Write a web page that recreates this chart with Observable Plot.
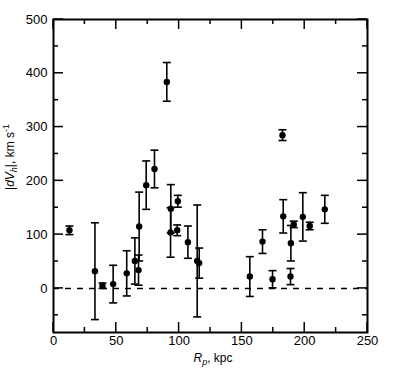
<!DOCTYPE html>
<html>
<head>
<meta charset="utf-8">
<script src="https://cdn.jsdelivr.net/npm/d3@7"></script>
<script src="https://cdn.jsdelivr.net/npm/@observablehq/plot@0.6"></script>
<style>
  body { margin: 0; background: #fff; }
  #chart { width: 395px; height: 370px; }
</style>
</head>
<body>
<div id="chart"></div>
<script>
// Projected distance R_p (kpc)
const rp = [12.7, 33, 39, 47.5, 58.3, 64.8, 67.7, 68.2, 73.8, 80.4, 90.2, 93.4, 93.2, 99, 98.5, 107, 114.4, 116,
            156.3, 166.4, 174.4, 182.3, 182.9, 189, 188.7, 191.3, 198.5, 204, 216];
// |dV_h| (km/s)
const dv = [108, 32, 5, 8, 28, 51, 34, 115, 192, 222, 384, 148, 104, 162, 108, 86, 51, 47,
            22, 87, 17, 285, 134, 84, 22, 119, 133, 116, 147];
// errors (km/s)
const err = [8, 90, 5, 35, 42, 43, 28, 64, 45, 35, 36, 45, 46, 11, 10, 30, 104, 28,
             37, 22, 16, 10, 31, 33, 15, 6, 45, 7, 26];

const xTicksMajor = [0, 50, 100, 150, 200, 250];
const xTicksMinor = [25, 75, 125, 175, 225];
const yTicksMajor = [0, 100, 200, 300, 400, 500];
const yTicksMinor = [-50, 50, 150, 250, 350, 450];

const data = rp.map((r, i) => ({x: r, y: dv[i], lo: dv[i] - err[i], hi: dv[i] + err[i]}));

const capSymbol = {
  draw(context, size) {
    const w = Math.sqrt(size / Math.PI);
    context.moveTo(-w, 0);
    context.lineTo(w, 0);
  }
};

const W = 395, H = 370, ML = 53, MR = 28, MT = 19, MB = 38;
const font = "Liberation Sans, Arial, Helvetica, sans-serif";

const plot = Plot.plot({
  width: W,
  height: H,
  marginLeft: ML,
  marginRight: MR,
  marginTop: MT,
  marginBottom: MB,
  style: {fontFamily: font, fontSize: "13px", color: "black", background: "white"},
  x: {domain: [0, 250]},
  y: {domain: [-82, 500]},
  marks: [
    Plot.axisX(xTicksMajor, {anchor: "bottom", tickSize: 0, tickPadding: 3, label: null, fontSize: 13}),
    Plot.axisY(yTicksMajor, {anchor: "left", tickSize: 0, tickPadding: 6, label: null, fontSize: 13}),
    Plot.ruleY([0], {stroke: "black", strokeWidth: 1.5, strokeDasharray: "6,6"}),
    Plot.ruleX(data, {x: "x", y1: "lo", y2: "hi", stroke: "black", strokeWidth: 1.6}),
    Plot.dot(data, {x: "x", y: "hi", symbol: capSymbol, r: 4, stroke: "black", strokeWidth: 1.6, fill: "none"}),
    Plot.dot(data, {x: "x", y: "lo", symbol: capSymbol, r: 4, stroke: "black", strokeWidth: 1.6, fill: "none"}),
    Plot.dot(data, {x: "x", y: "y", r: 3.2, fill: "black", stroke: "none"}),
    Plot.frame({stroke: "black", strokeWidth: 2})
  ]
});

const svg = d3.select(plot);

// inward ticks on all four sides, positioned with the plot's own scales
function scaleFn(name) {
  const s = plot.scale(name);
  if (s && typeof s.apply === "function") return v => s.apply(v);
  return v => s.range[0] + (v - s.domain[0]) / (s.domain[1] - s.domain[0]) * (s.range[1] - s.range[0]);
}
const sx = scaleFn("x"), sy = scaleFn("y");
const x0 = ML, x1 = W - MR, y0 = MT, y1 = H - MB;
const tg = svg.append("g").attr("stroke", "black").attr("stroke-width", 1.5);
function tickX(vals, len) {
  vals.forEach(v => {
    const px = sx(v);
    tg.append("line").attr("x1", px).attr("x2", px).attr("y1", y1).attr("y2", y1 - len);
    tg.append("line").attr("x1", px).attr("x2", px).attr("y1", y0).attr("y2", y0 + len);
  });
}
function tickY(vals, len) {
  vals.forEach(v => {
    const py = sy(v);
    tg.append("line").attr("y1", py).attr("y2", py).attr("x1", x0).attr("x2", x0 + len);
    tg.append("line").attr("y1", py).attr("y2", py).attr("x1", x1).attr("x2", x1 - len);
  });
}
tickX(xTicksMajor, 10);
tickX(xTicksMinor, 5);
tickY(yTicksMajor, 10);
tickY(yTicksMinor, 5);

// Y axis label
const yl = svg.append("text")
  .attr("transform", "translate(14,157) rotate(-90)")
  .attr("text-anchor", "middle")
  .attr("font-family", font)
  .attr("font-size", 12)
  .attr("fill", "black");
yl.append("tspan").text("|");
yl.append("tspan").attr("font-style", "italic").text("dV");
yl.append("tspan").attr("font-style", "italic").attr("font-size", 9).attr("dy", 3).text("h");
yl.append("tspan").attr("dy", -3).text("|, km s");
yl.append("tspan").attr("font-size", 9).attr("dy", -5).text("-1");

// X axis label
const xl = svg.append("text")
  .attr("x", 213)
  .attr("y", 362)
  .attr("text-anchor", "middle")
  .attr("font-family", font)
  .attr("font-size", 12)
  .attr("fill", "black");
xl.append("tspan").attr("font-style", "italic").text("R");
xl.append("tspan").attr("font-style", "italic").attr("font-size", 9).attr("dy", 3).text("p");
xl.append("tspan").attr("dy", -3).text(", kpc");

document.getElementById("chart").appendChild(plot);
</script>
</body>
</html>
